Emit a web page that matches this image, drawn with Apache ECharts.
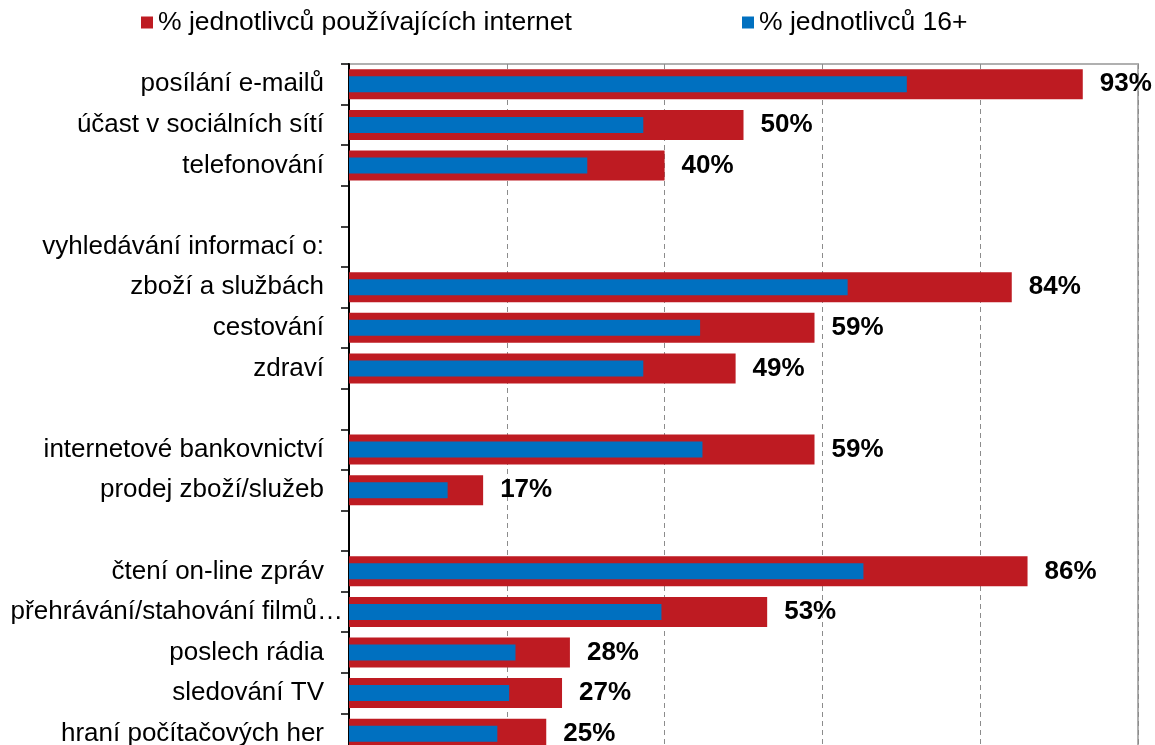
<!DOCTYPE html>
<html>
<head>
<meta charset="utf-8">
<script src="https://cdn.jsdelivr.net/npm/echarts@6/dist/echarts.min.js"></script>
<style>html,body{margin:0;padding:0;background:#fff;}#c{width:1155px;height:745px;}</style>
</head>
<body>
<div id="c"></div>
<script>
const categories = [
  'posílání e-mailů', 'účast v sociálních sítí', 'telefonování', ' ',
  'vyhledávání informací o:', 'zboží a službách', 'cestování', 'zdraví', '  ',
  'internetové bankovnictví', 'prodej zboží/služeb', '   ',
  'čtení on-line zpráv', 'přehrávání/stahování filmů…', 'poslech rádia', 'sledování TV', 'hraní počítačových her'
];
const internetUsers = [93, 50, 40, null, null, 84, 59, 49, null, 59, 17, null, 86, 53, 28, 27, 25];
const individuals16 = [70.7, 37.3, 30.2, null, null, 63.2, 44.5, 37.3, null, 44.8, 12.5, null, 65.2, 39.6, 21.1, 20.3, 18.8];
const xTicks = [0, 20, 40, 60, 80, 100];
const seriesNames = ['% jednotlivců používajících internet', '% jednotlivců 16+'];
const longLabel = 'přehrávání/stahování filmů…';

const FONT = '"Liberation Sans", Arial, sans-serif';
const chart = echarts.init(document.getElementById('c'));
chart.setOption({
  animation: false,
  textStyle: { fontFamily: FONT },
  legend: [
    { data: [seriesNames[0]], left: 141, top: 9, padding: 0, itemWidth: 12, itemHeight: 12, icon: 'rect',
      textStyle: { fontSize: 26.5, color: '#000', fontFamily: FONT } },
    { data: [seriesNames[1]], left: 742, top: 9, padding: 0, itemWidth: 12, itemHeight: 12, icon: 'rect',
      textStyle: { fontSize: 26.5, color: '#000', fontFamily: FONT } }
  ],
  grid: { left: 349, top: 64, width: 789, height: 690, show: true, borderColor: '#b0b0b0', borderWidth: 2,
          outerBoundsMode: 'none', containLabel: false },
  xAxis: {
    type: 'value', min: xTicks[0], max: xTicks[xTicks.length - 1], interval: 20,
    axisLabel: { show: false }, axisLine: { show: false }, axisTick: { show: false },
    splitLine: { show: true, lineStyle: { color: '#8c8c8c', type: [5, 4], width: 1 } }
  },
  yAxis: [
    {
      type: 'category', data: categories, inverse: true,
      axisLine: { show: true, lineStyle: { color: '#000', width: 2 } },
      axisTick: { show: true, length: 8, lineStyle: { color: '#000', width: 1.5 } },
      splitLine: { show: false },
      axisLabel: {
        margin: 6, fontSize: 26, color: '#000', fontFamily: FONT, interval: 0,
        formatter: v => v === longLabel ? v : '{n|' + v + '}',
        rich: { n: { fontSize: 26, color: '#000', fontFamily: FONT, padding: [0, 19, 0, 0] } }
      }
    },
    {
      type: 'category', data: categories, inverse: true, show: false,
      axisLine: { show: false }, axisTick: { show: false }, axisLabel: { show: false }
    }
  ],
  series: [
    {
      name: seriesNames[0], type: 'bar', yAxisIndex: 0, data: internetUsers, barWidth: 30,
      itemStyle: { color: '#BE1B22' },
      label: { show: true, position: 'right', distance: 17, formatter: p => p.value == null ? '' : p.value + '%',
               fontSize: 26, fontWeight: 'bold', color: '#000', fontFamily: FONT }
    },
    {
      name: seriesNames[1], type: 'bar', yAxisIndex: 1, data: individuals16, barWidth: 16,
      itemStyle: { color: '#0070C0' }
    }
  ]
});
</script>
</body>
</html>
